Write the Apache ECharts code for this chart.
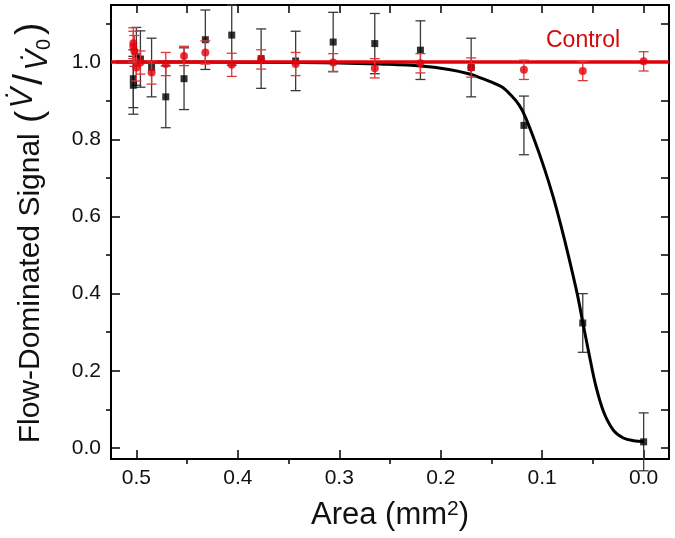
<!DOCTYPE html>
<html><head><meta charset="utf-8">
<script src="https://cdn.jsdelivr.net/npm/echarts@6/dist/echarts.min.js"></script>
<style>html,body{margin:0;padding:0;background:#fff}#c{width:675px;height:538px}</style>
</head><body><div id="c"></div>
<script>
// ---- tick values ----
const xTickLabels = [0, 0.1, 0.2, 0.3, 0.4, 0.5];
const xMinorTicks = [0.05, 0.15, 0.25, 0.35, 0.45];
const xAllTicks = [0, 0.05, 0.1, 0.15, 0.2, 0.25, 0.3, 0.35, 0.4, 0.45, 0.5];
const yTickLabels = [0, 0.2, 0.4, 0.6, 0.8, 1.0];
const yMinorTicks = [0.1, 0.3, 0.5, 0.7, 0.9, 1.1];
const yAllTicks = [0, 0.1, 0.2, 0.3, 0.4, 0.5, 0.6, 0.7, 0.8, 0.9, 1.0, 1.1];

// ---- occluded sample (black squares) ----
const sampleArea   = [0.503, 0.503, 0.500, 0.496, 0.485, 0.471, 0.453, 0.432, 0.406, 0.377, 0.343, 0.306, 0.265, 0.220, 0.170, 0.118, 0.060, 0.000];
const sampleSignal = [0.957, 0.940, 1.015, 1.008, 0.986, 0.910, 0.957, 1.058, 1.070, 1.009, 1.003, 1.052, 1.048, 1.031, 0.986, 0.836, 0.324, 0.016];
const sampleErr    = [0.075, 0.075, 0.075, 0.073, 0.076, 0.080, 0.080, 0.077, 0.078, 0.077, 0.077, 0.077, 0.078, 0.076, 0.076, 0.076, 0.076, 0.075];

// ---- control (red circles) ----
const controlArea   = [0.503, 0.503, 0.502, 0.500, 0.496, 0.485, 0.471, 0.453, 0.432, 0.406, 0.377, 0.343, 0.306, 0.265, 0.220, 0.170, 0.118, 0.060, 0.000];
const controlSignal = [1.049, 1.040, 1.029, 0.986, 0.999, 0.973, 0.995, 1.016, 1.025, 0.993, 1.007, 0.995, 0.999, 0.984, 0.997, 0.986, 0.980, 0.977, 1.002];
const controlErr    = [0.040, 0.040, 0.040, 0.035, 0.030, 0.030, 0.030, 0.025, 0.030, 0.030, 0.025, 0.030, 0.023, 0.025, 0.025, 0.025, 0.025, 0.025, 0.025];

// ---- fitted curve ----
const fitArea   = [0.520, 0.450, 0.350, 0.300, 0.260, 0.2197, 0.192, 0.1725, 0.1595, 0.140, 0.130, 0.1225, 0.1173, 0.1075, 0.0978, 0.0893, 0.0815, 0.0734, 0.0652, 0.0603, 0.0539, 0.0473, 0.0392, 0.0295, 0.0200, 0.0100, 0.000];
const fitSignal = [1.000, 1.000, 0.999, 0.998, 0.995, 0.990, 0.981, 0.970, 0.958, 0.936, 0.912, 0.888, 0.862, 0.797, 0.724, 0.652, 0.576, 0.490, 0.396, 0.330, 0.245, 0.163, 0.092, 0.045, 0.026, 0.019, 0.017];

// ---- control reference line ----
const controlLineArea   = [0.525, -0.025];
const controlLineSignal = [1.0, 1.0];

const X_MIN = -0.025, X_MAX = 0.525, Y_MIN = -0.0285, Y_MAX = 1.148;
const FONT = 'Liberation Sans';
const RED = '#e3000b';

const zip = (a, b, c) => a.map((v, i) => c ? [v, b[i], c[i]] : [v, b[i]]);

function errRender(color) {
  return function (params, api) {
    const x = api.value(0), y = api.value(1), e = api.value(2);
    const p1 = api.coord([x, y + e]);
    const p2 = api.coord([x, y - e]);
    const w = 5;
    const style = { stroke: color, lineWidth: 1.3 };
    return { type: 'group', children: [
      { type: 'line', shape: { x1: p1[0], y1: p1[1], x2: p2[0], y2: p2[1] }, style },
      { type: 'line', shape: { x1: p1[0] - w, y1: p1[1], x2: p1[0] + w, y2: p1[1] }, style },
      { type: 'line', shape: { x1: p2[0] - w, y1: p2[1], x2: p2[0] + w, y2: p2[1] }, style }
    ]};
  };
}

const baseX = { type: 'value', min: X_MIN, max: X_MAX, inverse: true, splitLine: { show: false } };
const baseY = { type: 'value', min: Y_MIN, max: Y_MAX, splitLine: { show: false } };

const chart = echarts.init(document.getElementById('c'));
chart.setOption({
  animation: false,
  backgroundColor: '#fff',
  grid: { left: 105, right: 6, top: 5, bottom: 79 },
  xAxis: [
    Object.assign({}, baseX, {
      position: 'bottom',
      axisLine: { show: true, onZero: false, lineStyle: { color: '#000', width: 2 } },
      axisTick: { show: true, inside: true, length: 9, customValues: xTickLabels, lineStyle: { color: '#000', width: 1.5 } },
      axisLabel: { show: true, customValues: xTickLabels, formatter: v => v.toFixed(1), fontFamily: FONT, fontSize: 21, color: '#111', margin: 9 },
      name: 'Area (mm{sup|2})', nameLocation: 'middle', nameGap: 40,
      nameTextStyle: { fontFamily: FONT, fontSize: 31, color: '#111', lineHeight: 33,
        rich: { sup: { fontFamily: FONT, fontSize: 21, color: '#111', verticalAlign: 'top', lineHeight: 21 } } }
    }),
    Object.assign({}, baseX, {
      position: 'bottom',
      axisLine: { show: false, onZero: false },
      axisTick: { show: true, inside: false, length: 5, customValues: xMinorTicks, lineStyle: { color: '#000', width: 1.5 } },
      axisLabel: { show: false }
    }),
    Object.assign({}, baseX, {
      position: 'top',
      axisLine: { show: true, onZero: false, lineStyle: { color: '#000', width: 2 } },
      axisTick: { show: true, inside: true, length: 8, customValues: xAllTicks, lineStyle: { color: '#000', width: 1.5 } },
      axisLabel: { show: false }
    })
  ],
  yAxis: [
    Object.assign({}, baseY, {
      position: 'left',
      axisLine: { show: true, onZero: false, lineStyle: { color: '#000', width: 2 } },
      axisTick: { show: true, inside: true, length: 9, customValues: yTickLabels, lineStyle: { color: '#000', width: 1.5 } },
      axisLabel: { show: true, customValues: yTickLabels, formatter: v => v.toFixed(1), fontFamily: FONT, fontSize: 21, color: '#111', margin: 10 },
      name: 'Flow-Dominated Signal {par|(}{up|V\u0307}{sl|/}{dn|V\u0307}{sub|0}{par|)}',
      nameLocation: 'middle', nameGap: 57, nameRotate: 90,
      nameTextStyle: { fontFamily: FONT, fontSize: 30, color: '#111', lineHeight: 46,
        rich: {
          par: { fontFamily: FONT, fontSize: 37, color: '#111', lineHeight: 46, padding: [0, 2] },
          up: { fontFamily: FONT, fontSize: 31, fontStyle: 'italic', color: '#111', verticalAlign: 'top', lineHeight: 29 },
          sl: { fontFamily: FONT, fontSize: 40, color: '#111', lineHeight: 46, padding: [0, 3] },
          dn: { fontFamily: FONT, fontSize: 31, fontStyle: 'italic', color: '#111', verticalAlign: 'bottom', lineHeight: 31 },
          sub: { fontFamily: FONT, fontSize: 20, color: '#111', verticalAlign: 'bottom', lineHeight: 20, padding: [0, 2, 0, 0] }
        } }
    }),
    Object.assign({}, baseY, {
      position: 'left',
      axisLine: { show: false, onZero: false },
      axisTick: { show: true, inside: false, length: 5, customValues: yMinorTicks, lineStyle: { color: '#000', width: 1.5 } },
      axisLabel: { show: false }
    }),
    Object.assign({}, baseY, {
      position: 'right',
      axisLine: { show: true, onZero: false, lineStyle: { color: '#000', width: 2 } },
      axisTick: { show: true, inside: true, length: 8, customValues: yAllTicks, lineStyle: { color: '#000', width: 1.5 } },
      axisLabel: { show: false }
    })
  ],
  graphic: [{
    type: 'text', left: 546, top: 29, silent: true,
    style: { text: 'Control', fontFamily: FONT, fontSize: 23, fill: '#d10a0a' }
  }],
  series: [
    { type: 'custom', name: 'sampleErr', renderItem: errRender('#3a3a3a'), data: zip(sampleArea, sampleSignal, sampleErr),
      encode: { x: 0, y: 1 }, z: 1, silent: true },
    { type: 'scatter', name: 'sample', data: zip(sampleArea, sampleSignal), symbol: 'rect', symbolSize: 7,
      itemStyle: { color: '#000' }, z: 2, silent: true },
    { type: 'line', name: 'fit', data: zip(fitArea, fitSignal), smooth: 0.35, showSymbol: false, symbol: 'none',
      lineStyle: { color: '#000', width: 3 }, z: 3, silent: true },
    { type: 'line', name: 'controlLine', data: zip(controlLineArea, controlLineSignal), showSymbol: false, symbol: 'none',
      lineStyle: { color: RED, width: 3.5 }, z: 4, silent: true },
    { type: 'custom', name: 'controlErr', renderItem: errRender('#d93a3a'), data: zip(controlArea, controlSignal, controlErr),
      encode: { x: 0, y: 1 }, z: 5, silent: true },
    { type: 'scatter', name: 'control', data: zip(controlArea, controlSignal), symbol: 'circle', symbolSize: 8,
      itemStyle: { color: RED }, z: 6, silent: true }
  ]
});
</script></body></html>
